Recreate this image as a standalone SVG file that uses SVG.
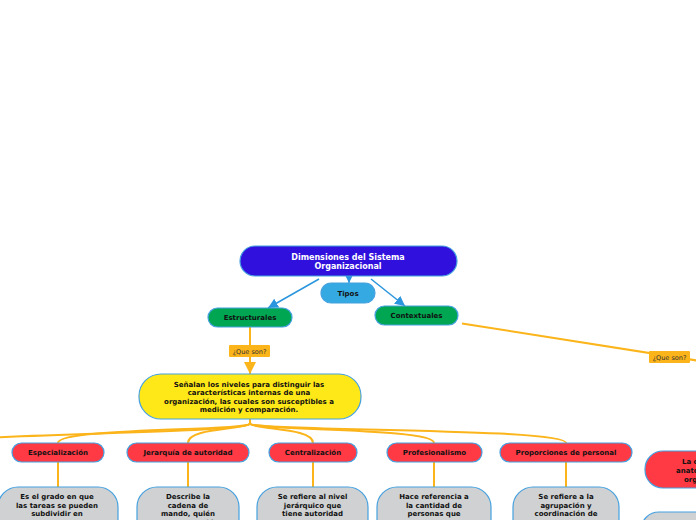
<svg xmlns="http://www.w3.org/2000/svg" width="696" height="520" viewBox="0 0 696 520">
<style>
text{font-family:"DejaVu Sans","Verdana",sans-serif;font-weight:bold;font-size:7px;fill:#111;text-anchor:middle}
.t8{font-size:8px;fill:#fff}
.lbl{font-weight:normal;font-size:6.5px;fill:#333}
.st{text-anchor:start}
.nd{stroke:#45a1e0;stroke-width:1.2}
.main{fill:#2f10dc}
.tip{fill:#35a9e1}
.grn{fill:#00a651}
.yel{fill:#ffe817}
.red{fill:#ff3a45}
.gry{fill:#d0d1d3}
.bl{fill:none;stroke:#2b96dd;stroke-width:1.5}
.yl{fill:none;stroke:#fbb41a;stroke-width:2}
.lb{fill:#fbb41a}
</style>
<defs>
<marker id="ab" markerUnits="userSpaceOnUse" markerWidth="10" markerHeight="10" viewBox="0 0 10 10" refX="10" refY="5" orient="auto">
<path d="M0,0 L10,5 L0,10 Z" fill="#2b96dd"/>
</marker>
<marker id="ay" markerUnits="userSpaceOnUse" markerWidth="12" markerHeight="12" viewBox="0 0 10 10" refX="10" refY="5" orient="auto">
<path d="M0,0 L10,5 L0,10 Z" fill="#fbb41a"/>
</marker>
</defs>
<rect width="696" height="520" fill="#fff"/>
<g id="connectors">
<path class="bl" d="M349,277 L349,283" marker-end="url(#ab)"/>
<path class="bl" d="M319,279 L268,308" marker-end="url(#ab)"/>
<path class="bl" d="M371,279 L405,306" marker-end="url(#ab)"/>
<path class="yl" d="M250,327 L250,374" marker-end="url(#ay)"/>
<path class="yl" d="M462,323.5 L700,361"/>
<path class="yl" d="M250,419 L250,424"/>
<path class="yl" d="M250,424 C238,431 120,432 -20,438"/>
<path class="yl" d="M250,424 C238,431 58,428 58,443"/>
<path class="yl" d="M250,424 C240,430 188,428 188,443"/>
<path class="yl" d="M250,424 C260,430 313,428 313,443"/>
<path class="yl" d="M250,424 C262,431 434,428 434,443"/>
<path class="yl" d="M250,424 C262,431 566,428 566,443"/>
<path class="yl" d="M58,462 L58,487"/>
<path class="yl" d="M188,462 L188,487"/>
<path class="yl" d="M313,462 L313,487"/>
<path class="yl" d="M434,462 L434,487"/>
<path class="yl" d="M566,462 L566,487"/>
<g id="lbl1"><rect class="lb" x="229" y="345" width="41" height="12" rx="1"/><text class="lbl" x="249.5" y="353.5">¿Que son?</text></g>
<g id="lbl2"><rect class="lb" x="649" y="351" width="41" height="12" rx="1"/><text class="lbl" x="669.5" y="359.5">¿Que son?</text></g>
</g>
<g id="n-main"><rect class="nd main" x="240" y="246" width="217" height="30" rx="15"/><text class="t8" x="348" y="260">Dimensiones del Sistema</text><text class="t8" x="348" y="269">Organizacional</text></g>
<g id="n-tipos"><rect class="nd tip" x="321" y="283" width="54" height="20" rx="10"/><text x="348" y="295.5">Tipos</text></g>
<g id="n-estr"><rect class="nd grn" x="208" y="308" width="84" height="19" rx="9.5"/><text x="250" y="320">Estructurales</text></g>
<g id="n-cont"><rect class="nd grn" x="375" y="306" width="83" height="19" rx="9.5"/><text x="416.5" y="318">Contextuales</text></g>
<g id="n-yel"><rect class="nd yel" x="139" y="374" width="222" height="45" rx="22"/>
<text x="249" y="386.5">Señalan los niveles para distinguir las</text>
<text x="249" y="395">características internas de una</text>
<text x="249" y="403.5">organización, las cuales son susceptibles a</text>
<text x="249" y="412">medición y comparación.</text></g>
<g id="n-esp"><rect class="nd red" x="12" y="443" width="92" height="19" rx="9.5"/><text x="58" y="455">Especialización</text></g>
<g id="n-jer"><rect class="nd red" x="127" y="443" width="122" height="19" rx="9.5"/><text x="188" y="455">Jerarquía de autoridad</text></g>
<g id="n-cen"><rect class="nd red" x="269" y="443" width="88" height="19" rx="9.5"/><text x="313" y="455">Centralización</text></g>
<g id="n-pro"><rect class="nd red" x="387" y="443" width="95" height="19" rx="9.5"/><text x="434.5" y="455">Profesionalismo</text></g>
<g id="n-ppe"><rect class="nd red" x="500" y="443" width="132" height="19" rx="9.5"/><text x="566" y="455">Proporciones de personal</text></g>
<g id="n-g1"><rect class="nd gry" x="-2" y="487" width="120" height="60" rx="20"/>
<text x="57" y="498.5">Es el grado en que</text><text x="57" y="507.5">las tareas se pueden</text><text x="57" y="516">subdividir en</text></g>
<g id="n-g2"><rect class="nd gry" x="137" y="487" width="102" height="60" rx="20"/>
<text x="188" y="498.5">Describe la</text><text x="188" y="507.5">cadena de</text><text x="188" y="516">mando, quién</text><text x="188" y="524.5">reporta a quién</text></g>
<g id="n-g3"><rect class="nd gry" x="257" y="487" width="111" height="60" rx="20"/>
<text x="312.5" y="498.5">Se refiere al nivel</text><text x="312.5" y="507.5">jerárquico que</text><text x="312.5" y="516">tiene autoridad</text></g>
<g id="n-g4"><rect class="nd gry" x="377" y="487" width="114" height="60" rx="20"/>
<text x="434" y="498.5">Hace referencia a</text><text x="434" y="507.5">la cantidad de</text><text x="434" y="516">personas que</text></g>
<g id="n-g5"><rect class="nd gry" x="513" y="487" width="106" height="60" rx="20"/>
<text x="566" y="498.5">Se refiere a la</text><text x="566" y="507.5">agrupación y</text><text x="566" y="516">coordinación de</text></g>
<g id="n-rr"><rect class="nd red" x="645" y="451" width="120" height="37" rx="18"/>
<text class="st" x="682" y="463.5">La conforman la</text><text class="st" x="676" y="472.5">anatomía de la</text><text class="st" x="684" y="481.5">organización</text></g>
<g id="n-rg"><rect class="nd gry" x="641" y="512" width="120" height="40" rx="18"/></g>
</svg>
